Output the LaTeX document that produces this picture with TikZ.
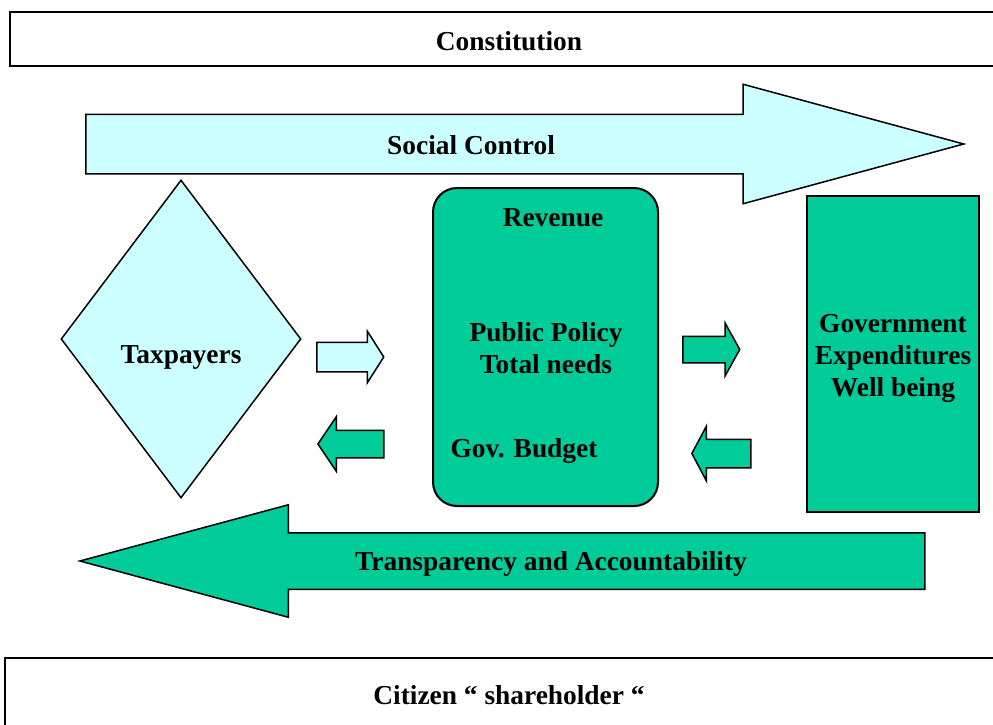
\documentclass[tikz,border=0pt]{standalone}
\usepackage{fontspec}
\setmainfont{Liberation Serif}
\usetikzlibrary{shapes.geometric, shapes.arrows}
\definecolor{paleblue}{HTML}{CCFFFF}
\definecolor{seagreen}{HTML}{00CC99}
\tikzstyle{banner} = [
    rectangle,
    line width=2pt,
    draw=black,
    fill=white
]
\tikzstyle{panel} = [
    rectangle,
    line width=2pt,
    draw=black,
    fill=seagreen
]
\tikzstyle{blockarrow} = [
    single arrow,
    inner xsep=0pt,
    line width=1.5pt,
    draw=black
]
\tikzstyle{rhombus} = [
    diamond,
    inner sep=0pt,
    line width=1.5pt,
    draw=black,
    fill=paleblue
]

\begin{document}
\begin{tikzpicture}[x=1pt, y=-1pt,
    font=\bfseries\fontsize{27.4}{32}\selectfont]
\useasboundingbox (0,0) rectangle (993,724);

\node (constitution) [banner, minimum width=998pt, minimum height=54pt,
    text height=23pt, text depth=0pt] at (509,39) {Constitution};

\node (citizen) [banner, minimum width=1008pt, minimum height=74pt]
at (509,695) {Citizen `` shareholder ``};

% shaft half width = inner ysep, head = shaft + 2 x head extend
\node (social) [blockarrow, fill=paleblue, minimum height=878pt,
    inner ysep=29pt, single arrow head extend=30pt,
    single arrow tip angle=30.3, anchor=tail] at (85,144) {};
\node (socialText) at (471,145) {Social Control};

\node (taxpayers) [rhombus, minimum width=240pt, minimum height=318pt]
at (181,339) {};
\node (taxpayersText) at (181,357) {Taxpayers};

\node (budget) [panel, rounded corners=24pt, minimum width=225pt,
    minimum height=318pt] at (545.5,347) {};
\node (revenue) at (553,218) {Revenue};
\node (policy) [align=center] at (546,348) {Public Policy\\Total needs};
\node (govBudget) at (524,451) {Gov. Budget};

\node (expenditures) [panel, minimum width=172pt, minimum height=316pt]
at (893,354) {};
\node (expendituresText) [align=center] at (893,358)
{Government\\Expenditures\\Well being};

\node (transparency) [blockarrow, fill=seagreen, shape border rotate=180,
    minimum height=845pt, inner ysep=27.5pt,
    single arrow head extend=28pt, single arrow tip angle=30.2,
    anchor=tip] at (77,561) {};
\node (transparencyText) at (551,564) {Transparency and Accountability};

% flows between taxpayers, budget and expenditures
\node (taxIn) [blockarrow, fill=paleblue, minimum height=67pt,
    inner ysep=14pt, single arrow head extend=11pt,
    single arrow tip angle=115, anchor=tail] at (316,357) {};
\node (taxBack) [blockarrow, fill=seagreen, shape border rotate=180,
    minimum height=66pt, inner ysep=13pt,
    single arrow head extend=13.5pt, single arrow tip angle=112,
    anchor=tip] at (317,444) {};
\node (spendOut) [blockarrow, fill=seagreen, minimum height=57pt,
    inner ysep=12.5pt, single arrow head extend=13pt,
    single arrow tip angle=122, anchor=tail] at (682,349.5) {};
\node (spendBack) [blockarrow, fill=seagreen, shape border rotate=180,
    minimum height=59pt, inner ysep=13.5pt,
    single arrow head extend=13pt, single arrow tip angle=124,
    anchor=tip] at (691,453.5) {};

\end{tikzpicture}
\end{document}
